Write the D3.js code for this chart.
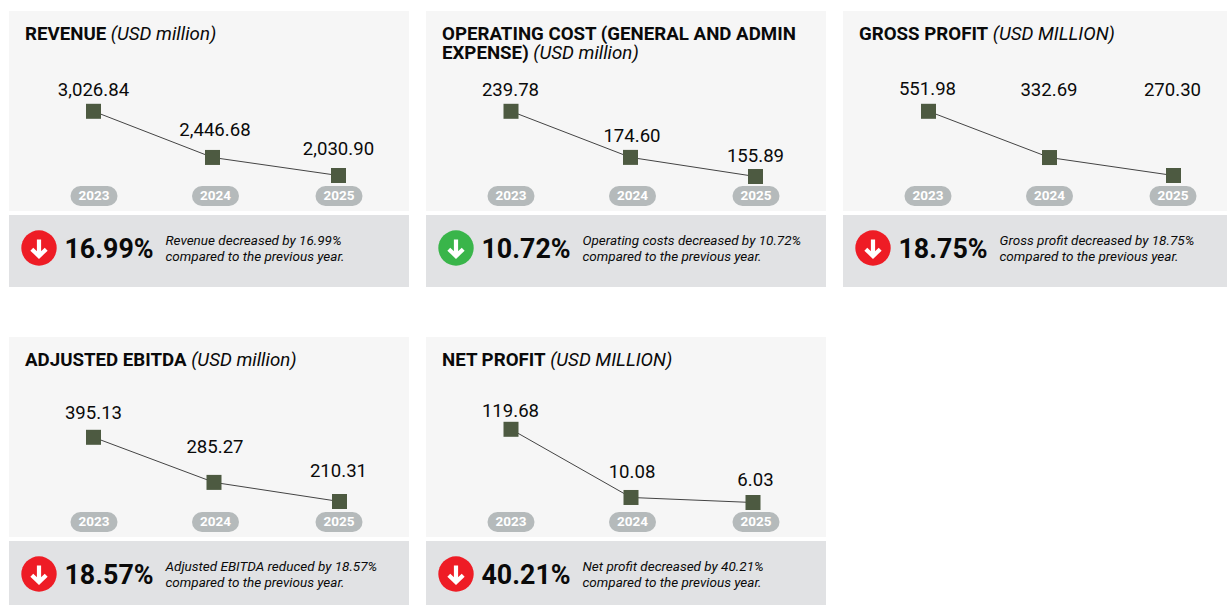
<!DOCTYPE html>
<html>
<head>
<meta charset="utf-8">
<script src="https://cdn.jsdelivr.net/npm/d3@7"></script>
<style>
  html, body { margin: 0; padding: 0; background: #fff; overflow: hidden; }
  svg { display: block; font-family: Roboto, sans-serif; }
</style>
</head>
<body>
<svg id="chart" width="1227" height="605"></svg>
<script>
// data
const years = ["2023", "2024", "2025"];
const revenue = [3026.84, 2446.68, 2030.90];
const operatingCost = [239.78, 174.60, 155.89];
const grossProfit = [551.98, 332.69, 270.30];
const adjustedEbitda = [395.13, 285.27, 210.31];
const netProfit = [119.68, 10.08, 6.03];
const changePct = [16.99, 10.72, 18.75, 18.57, 40.21];
const titlesBold = [["REVENUE"], ["OPERATING COST (GENERAL AND ADMIN", "EXPENSE)"], ["GROSS PROFIT"], ["ADJUSTED EBITDA"], ["NET PROFIT"]];
const titlesUnit = ["(USD million)", "(USD million)", "(USD MILLION)", "(USD million)", "(USD MILLION)"];
const notes = [
  "Revenue decreased by 16.99%",
  "Operating costs decreased by 10.72%",
  "Gross profit decreased by 18.75%",
  "Adjusted EBITDA reduced by 18.57%",
  "Net profit decreased by 40.21%"
];
const goodNews = [false, true, false, false, false];
const series = [revenue, operatingCost, grossProfit, adjustedEbitda, netProfit];

// layout, one entry per panel
const panelX = [9, 426, 843, 9, 426];
const panelY = [11, 11, 11, 337, 337];
const panelW = [400, 400, 384, 400, 400];
const yTop = [100.3, 100.3, 100.3, 100.3, 92.3];
const yBottom = [164.5, 165.5, 164.5, 164.5, 165.5];
// the source isn't drawn to a straight scale, so each panel gets its own power scale
const yExponent = [4, -0.7, 0.15, 2.5, 0.63];
const xNudge = [[0, -2.5, 0], [0.5, -1.5, 0], [1, 0.5, 1], [0, -1, 1], [0.5, -1, -2.5]];
const labelLift = [[15, 21, 21], [15, 15, 15], [16, 62, 80], [18, 29, 25], [12, 19, 17]];

const svg = d3.select("#chart");
const fmt = d3.format(",.2f");

series.forEach(function(values, i) {
  var g = svg.append("g").attr("transform", "translate(" + panelX[i] + "," + panelY[i] + ")");

  g.append("rect").attr("width", panelW[i]).attr("height", 200).attr("fill", "#f6f6f6");
  g.append("rect").attr("y", 204).attr("width", panelW[i]).attr("height", 72).attr("fill", "#e1e2e4");

  // title
  var title = g.append("text").attr("x", 16).attr("y", 29)
      .attr("font-size", 18.7).attr("fill", "#0a0a0a");
  titlesBold[i].forEach(function(line, n) {
    title.append("tspan").attr("x", 16).attr("dy", n ? 19 : 0)
        .attr("font-weight", 700).text(line);
  });
  title.append("tspan").attr("font-style", "italic").text(" " + titlesUnit[i]);

  var x = d3.scaleOrdinal(years, [84.5, 206, 329.5]);
  var y = d3.scalePow().exponent(yExponent[i])
      .domain([d3.min(values), d3.max(values)])
      .range([yBottom[i], yTop[i]]);

  var points = values.map(function(v, j) {
    return { year: years[j], value: v, px: x(years[j]) + xNudge[i][j], py: y(v), lift: labelLift[i][j] };
  });

  // year pills, drawn on the axis ticks
  var axis = g.append("g").attr("transform", "translate(0,185)")
      .call(d3.axisBottom(x).tickSize(0).tickPadding(0));
  axis.select(".domain").remove();
  axis.selectAll(".tick").insert("rect", "text")
      .attr("x", -23.5).attr("y", -10).attr("width", 47).attr("height", 20).attr("rx", 10)
      .attr("fill", "#b5babb");
  axis.selectAll(".tick text")
      .attr("y", -0.7).attr("dy", "0.36em")
      .attr("font-family", "Roboto, sans-serif").attr("font-size", 13.5).attr("font-weight", 700)
      .attr("fill", "#fff").attr("stroke", "none");

  var line = d3.line().x(function(d) { return d.px; }).y(function(d) { return d.py; });
  g.append("path").datum(points).attr("d", line)
      .attr("fill", "none").attr("stroke", "#444").attr("stroke-width", 1);

  g.selectAll(".marker").data(points).enter().append("rect")
      .attr("class", "marker")
      .attr("x", function(d) { return d.px - 7.5; })
      .attr("y", function(d) { return d.py - 7.5; })
      .attr("width", 15).attr("height", 15)
      .attr("fill", "#4d5a41");

  g.selectAll(".value").data(points).enter().append("text")
      .attr("class", "value")
      .attr("x", function(d) { return x(d.year); })
      .attr("y", function(d) { return d.py - d.lift; })
      .attr("text-anchor", "middle").attr("font-size", 18.6).attr("fill", "#0a0a0a")
      .text(function(d) { return fmt(d.value); });

  // change band
  var band = g.append("g").attr("transform", "translate(0,237)");
  band.append("circle").attr("cx", 30).attr("r", 17.7)
      .attr("fill", goodNews[i] ? "#39b54a" : "#ee1c25");
  band.append("path").attr("d", "M30,-8.5V7M22.8,1.2L30,8L37.2,1.2")
      .attr("fill", "none").attr("stroke", "#fff").attr("stroke-width", 4.2);
  band.append("text").attr("x", 55.5).attr("y", 9.5)
      .attr("font-size", 26.8).attr("font-weight", 700).attr("fill", "#0a0a0a")
      .text(changePct[i].toFixed(2) + "%");
  var note = band.append("text").attr("font-size", 13.5).attr("font-style", "italic").attr("fill", "#0a0a0a");
  note.append("tspan").attr("x", 156.5).attr("y", -3.5).text(notes[i]);
  note.append("tspan").attr("x", 156.5).attr("y", 12.5).text("compared to the previous year.");
});
</script>
</body>
</html>
